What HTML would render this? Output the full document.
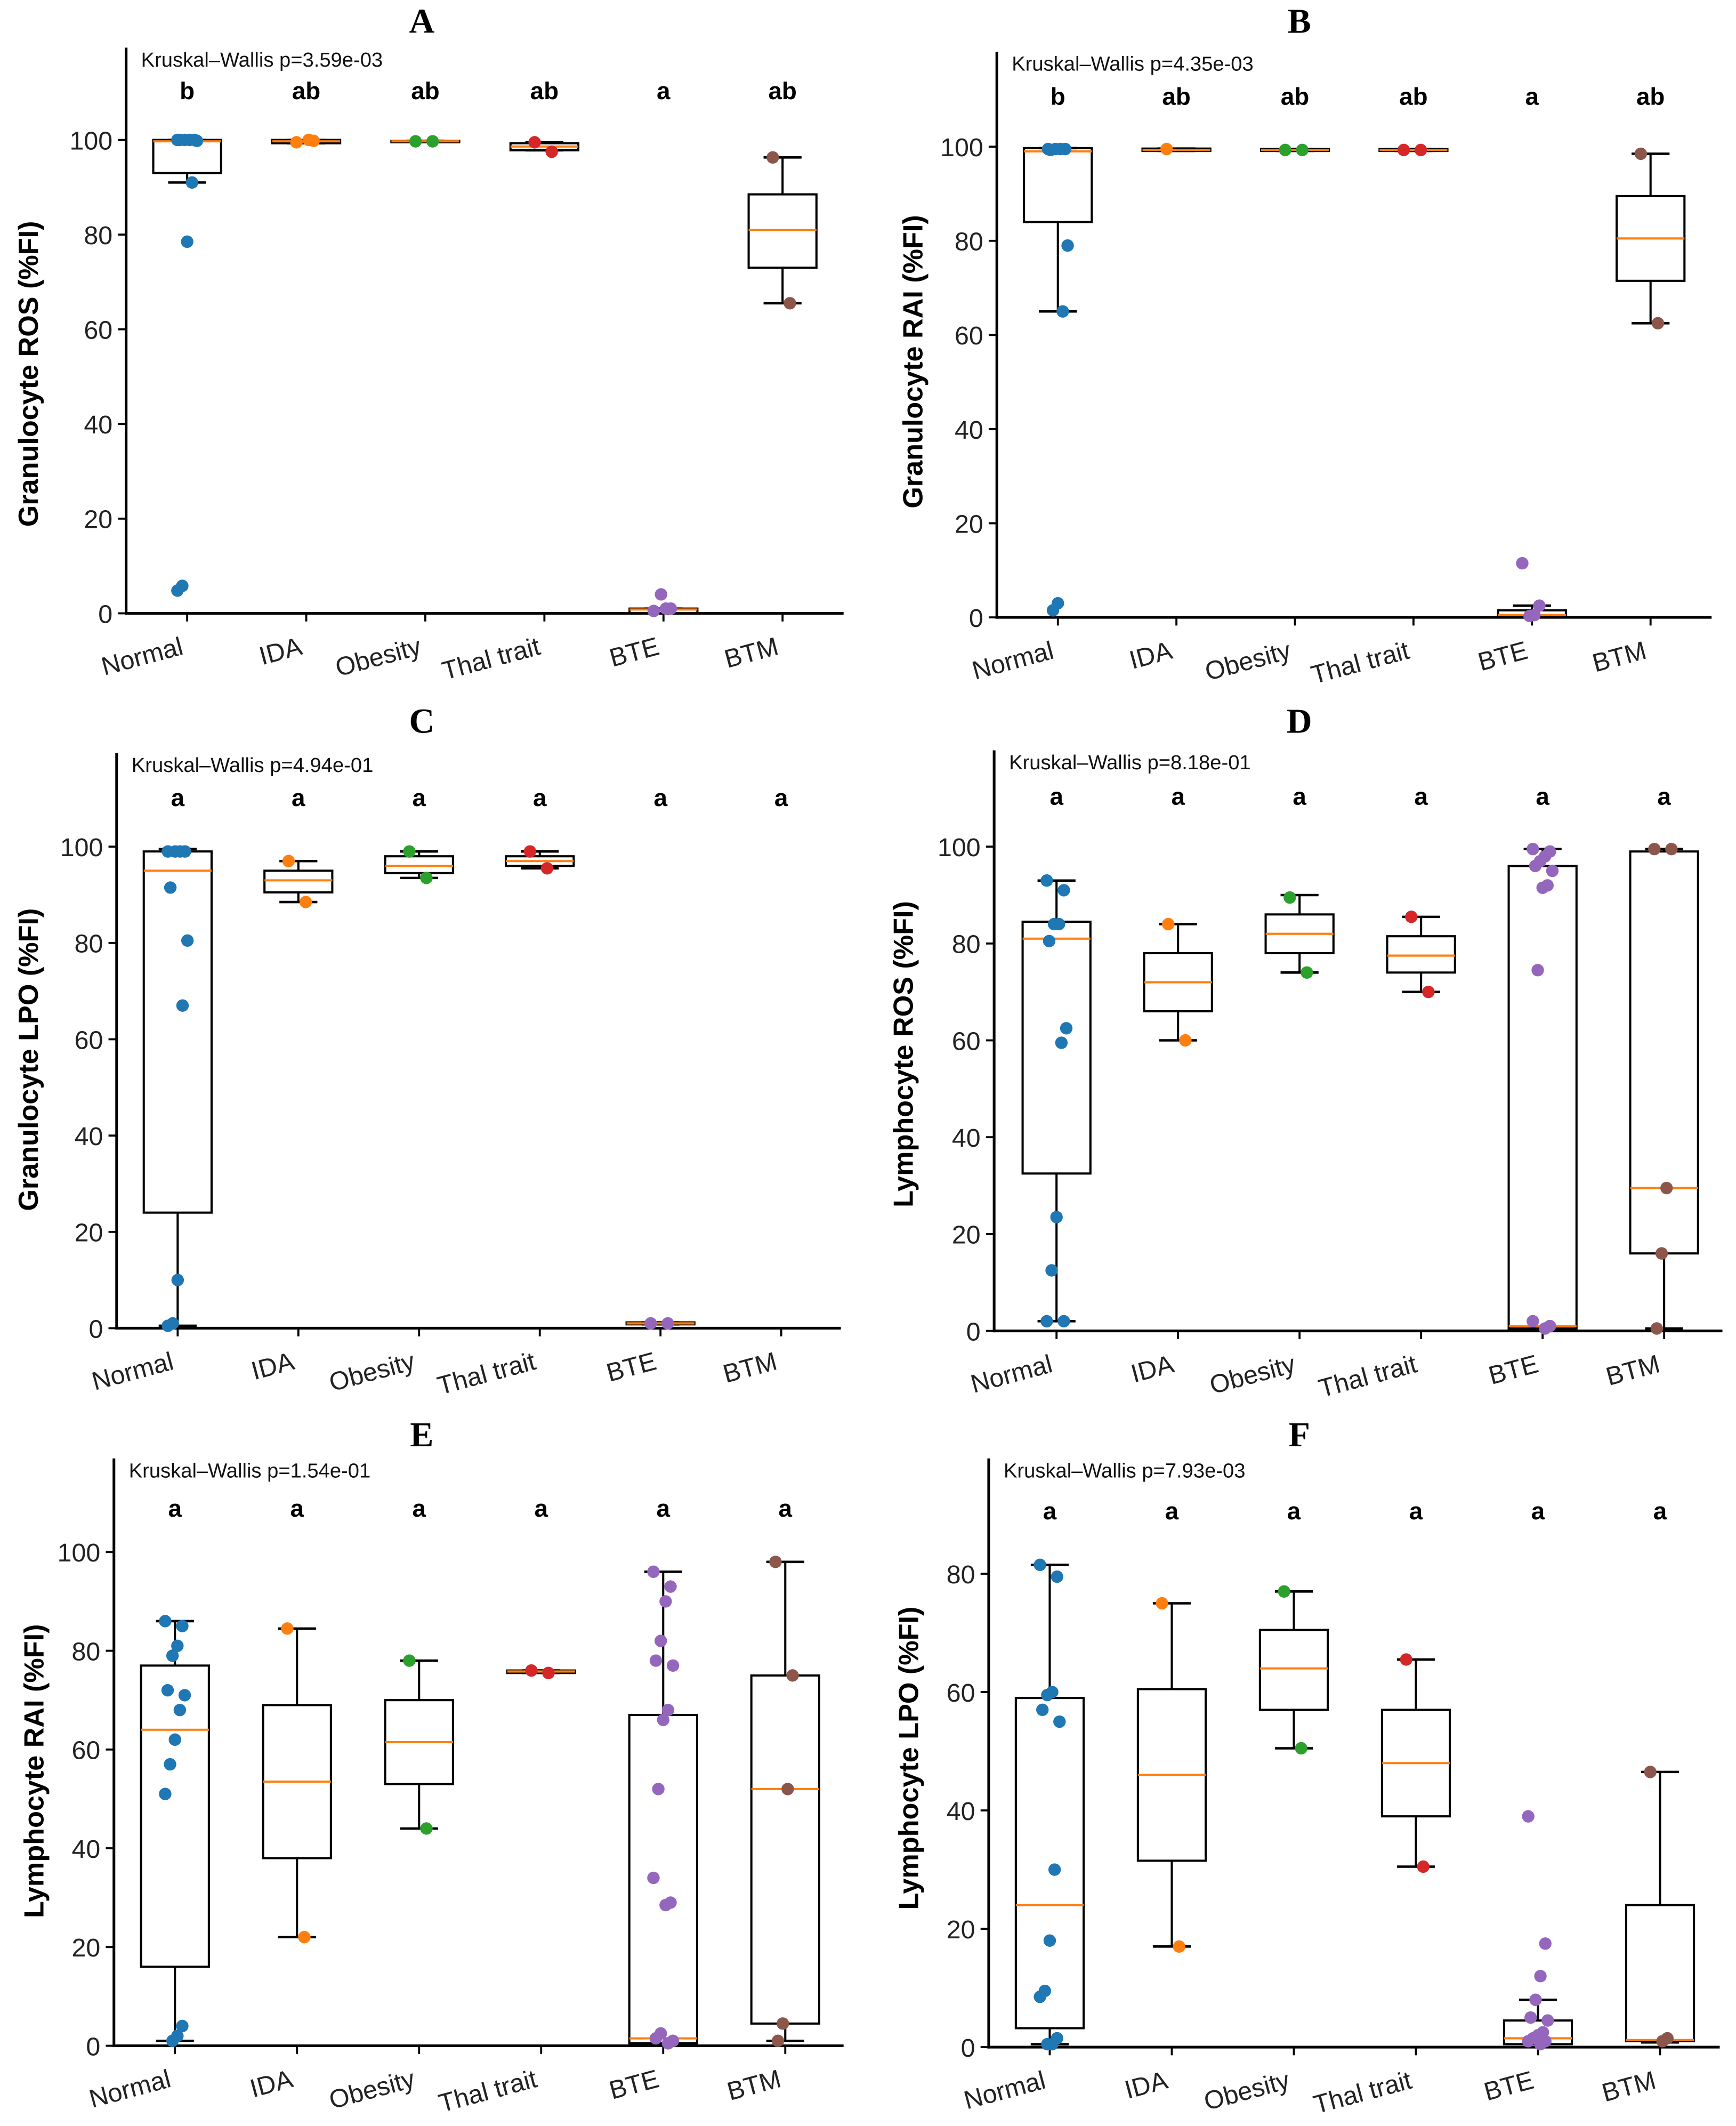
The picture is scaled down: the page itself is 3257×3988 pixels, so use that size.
<!DOCTYPE html>
<html><head><meta charset="utf-8"><style>
html,body{margin:0;padding:0;background:#fff}
svg{display:block}
text{font-family:"Liberation Sans",sans-serif}
</style></head><body>
<svg id="fig" xmlns="http://www.w3.org/2000/svg" width="3257" height="3988" viewBox="0 0 1280 1567"></svg>
<script>
const categories=["Normal","IDA","Obesity","Thal trait","BTE","BTM"];
const colors=["#1f77b4","#ff7f0e","#2ca02c","#d62728","#9467bd","#8c564b"];
// box stats per panel: [q1, median, q3, whiskerLow, whiskerHigh] (null = no box)
const boxA=[[93,99.7,100,91,100],[99.3,99.7,100,99.3,100],[99.6,99.7,99.8,99.6,99.8],[97.8,98.6,99.3,97.8,99.5],[0,0.8,1,0,1],[73,81,88.5,65.5,96.3]];
const ptsA=[[100,100,100,100,100,99.8,91,78.5,5.8,4.8],[99.5,99.8,100],[99.7,99.7],[99.5,97.5],[0.5,1,1,4],[96.3,65.5]];
const boxB=[[84,99,99.7,65,99.7],[99.1,99.3,99.6,99.1,99.6],[99.1,99.3,99.5,99.1,99.5],[99.1,99.3,99.5,99.1,99.5],[0,0.5,1.5,0,2.5],[71.5,80.5,89.5,62.5,98.5]];
const ptsB=[[99.5,99.5,99.5,99.5,99.3,79,65,3,1.5],[99.5],[99.3,99.3],[99.3,99.3],[11.5,2.5,0.5,0.3],[98.5,62.5]];
const boxC=[[24,95,99,0.5,99.5],[90.5,93,95,88.5,97],[94.5,96,98,93.5,99],[96,97,98,95.5,99],[0.8,1,1.2,0.8,1.2],null];
const ptsC=[[99,99,99,99,91.5,80.5,67,10,1,0.5],[97,88.5],[99,93.5],[99,95.5],[1,1],[]];
const boxD=[[32.5,81,84.5,2,93],[66,72,78,60,84],[78,82,86,74,90],[74,77.5,81.5,70,85.5],[0.5,1,96,0,99.5],[16,29.5,99,0.5,99.5]];
const ptsD=[[93,91,84,84,80.5,62.5,59.5,23.5,12.5,2,2],[84,60],[89.5,74],[85.5,70],[99.5,99,98,97,96,95,92,91.5,74.5,2,1,0.5],[99.5,99.5,29.5,16,0.5]];
const boxE=[[16,64,77,1,86],[38,53.5,69,22,84.5],[53,61.5,70,44,78],[75.5,75.8,76,75.5,76],[0.5,1.5,67,0,96],[4.5,52,75,1,98]];
const ptsE=[[86,85,81,79,72,71,68,62,57,51,4,2,1],[84.5,22],[78,44],[76,75.5],[96,93,90,82,78,77,68,66,52,34,29,28.5,2.5,1.5,1,0.5],[98,75,52,4.5,1]];
const boxF=[[3.2,24,59,0.5,81.5],[31.5,46,60.5,17,75],[57,64,70.5,50.5,77],[39,48,57,30.5,65.5],[0.5,1.5,4.5,0,8],[1,1.2,24,0.8,46.5]];
const ptsF=[[81.5,79.5,60,59.5,57,55,30,18,9.5,8.5,1.5,0.5,0.5],[75,17],[77,50.5],[65.5,30.5],[39,17.5,12,8,5,4.5,2.5,2,1.5,1,1,0.5],[46.5,1.5,1]];
const lettersA=["b","ab","ab","ab","a","ab"];
const lettersB=["b","ab","ab","ab","a","ab"];
const lettersAll=["a","a","a","a","a","a"];
const ticks100=[0,20,40,60,80,100];
const ticks80=[0,20,40,60,80];

const panels=[
 {id:"A",title:"A",tx:311,ty:24,x0:93,xR:622,y0:452,ref:100,yref:103,yTop:35,c0:138,step:87.8,box:boxA,pts:ptsA,let:lettersA,ly:73,p:"3.59e-03",ylab:"Granulocyte ROS (%FI)",labx:28,laby:32,ticks:ticks100},
 {id:"B",title:"B",tx:958,ty:24,x0:735,xR:1262,y0:455,ref:100,yref:108,yTop:38,c0:780,step:87.4,box:boxB,pts:ptsB,let:lettersB,ly:77,p:"4.35e-03",ylab:"Granulocyte RAI (%FI)",labx:680,laby:20,ticks:ticks100},
 {id:"C",title:"C",tx:311,ty:540,x0:86,xR:620,y0:979,ref:100,yref:624,yTop:555,c0:131,step:89,box:boxC,pts:ptsC,let:lettersAll,ly:594,p:"4.94e-01",ylab:"Granulocyte LPO (%FI)",labx:28,laby:14,ticks:ticks100},
 {id:"D",title:"D",tx:958,ty:540,x0:733,xR:1270,y0:981,ref:100,yref:624,yTop:553,c0:779,step:89.6,box:boxD,pts:ptsD,let:lettersAll,ly:593,p:"8.18e-01",ylab:"Lymphocyte ROS (%FI)",labx:673,laby:10,ticks:ticks100},
 {id:"E",title:"E",tx:311,ty:1066,x0:84,xR:622,y0:1508,ref:100,yref:1144,yTop:1075,c0:129,step:90,box:boxE,pts:ptsE,let:lettersAll,ly:1118,p:"1.54e-01",ylab:"Lymphocyte RAI (%FI)",labx:32,laby:14,ticks:ticks100},
 {id:"F",title:"F",tx:958,ty:1066,x0:729,xR:1268,y0:1509,ref:80,yref:1160,yTop:1075,c0:774,step:90,box:boxF,pts:ptsF,let:lettersAll,ly:1120,p:"7.93e-03",ylab:"Lymphocyte LPO (%FI)",labx:677,laby:4,ticks:ticks80}
];
const NS="http://www.w3.org/2000/svg";
const svg=document.getElementById("fig");
function mk(tag,attrs,parent,txt){const e=document.createElementNS(NS,tag);for(const k in attrs)e.setAttribute(k,attrs[k]);if(txt!==undefined)e.textContent=txt;parent.appendChild(e);return e;}
panels.forEach(P=>{
 const g=mk("g",{},svg);
 
 
 const ys=v=>P.y0-(P.y0-P.yref)*v/P.ref;
 const xs=i=>P.c0+i*P.step;
 const t=mk("text",{x:P.tx,y:P.ty,"text-anchor":"middle","font-size":26,"font-weight":"bold",style:"font-family:'Liberation Serif',serif"},g,P.title);
 
 
 const ya=mk("line",{x1:P.x0,y1:P.yTop,x2:P.x0,y2:P.y0+1,stroke:"#000","stroke-width":2},g);
 
 
 const xa=mk("line",{x1:P.x0-1,y1:P.y0,x2:P.xR,y2:P.y0,stroke:"#000","stroke-width":2},g);
 
 
 P.ticks.forEach(v=>{
  mk("line",{x1:P.x0-6,y1:ys(v),x2:P.x0,y2:ys(v),stroke:"#000","stroke-width":1.5},g);
  const tl=mk("text",{x:P.x0-10,y:ys(v)+7,"text-anchor":"end","font-size":19,fill:"#222"},g,String(v));
  
  
 });
 const my=(P.yTop+P.y0)/2+P.laby;
 const yl=mk("text",{x:P.labx,y:my,"text-anchor":"middle","font-size":20.5,"font-weight":"bold",transform:`rotate(-90 ${P.labx} ${my})`},g,P.ylab);
 
 
 const kw=mk("text",{x:P.x0+11,y:P.yTop+14,"font-size":15,fill:"#111"},g,"Kruskal–Wallis p="+P.p);
 
 
 categories.forEach((c,i)=>{
  const x=xs(i);
  mk("line",{x1:x,y1:P.y0,x2:x,y2:P.y0+6,stroke:"#000","stroke-width":1.5},g);
  const xl=mk("text",{x:x-2,y:P.y0+30,"text-anchor":"end","font-size":19,fill:"#222",transform:`rotate(-15 ${x-2} ${P.y0+30})`},g,c);
  
  
  const lt=mk("text",{x:x,y:P.ly,"text-anchor":"middle","font-size":18,"font-weight":"bold"},g,P.let[i]);
  
  
  const b=P.box[i];
  if(b){
   const bg=mk("g",{},g);
   
   
   const w=25,cw=14;
   mk("line",{x1:x,y1:ys(b[3]),x2:x,y2:ys(b[0]),stroke:"#000","stroke-width":1.6},bg);
   mk("line",{x1:x,y1:ys(b[2]),x2:x,y2:ys(b[4]),stroke:"#000","stroke-width":1.6},bg);
   mk("line",{x1:x-cw,y1:ys(b[3]),x2:x+cw,y2:ys(b[3]),stroke:"#000","stroke-width":1.8},bg);
   mk("line",{x1:x-cw,y1:ys(b[4]),x2:x+cw,y2:ys(b[4]),stroke:"#000","stroke-width":1.8},bg);
   mk("rect",{x:x-w,y:ys(b[2]),width:2*w,height:Math.max(ys(b[0])-ys(b[2]),1),fill:"none",stroke:"#000","stroke-width":1.6},bg);
   mk("line",{x1:x-w,y1:ys(b[1]),x2:x+w,y2:ys(b[1]),stroke:"#ff7f0e","stroke-width":1.6},bg);
  }
  P.pts[i].forEach((v,k)=>{
   const off=((k*7)%9-4)*1.8;
   const d=mk("circle",{cx:x+off,cy:ys(v),r:4.6,fill:colors[i]},g);
   
   
  });
 });
});
</script>
</body></html>
